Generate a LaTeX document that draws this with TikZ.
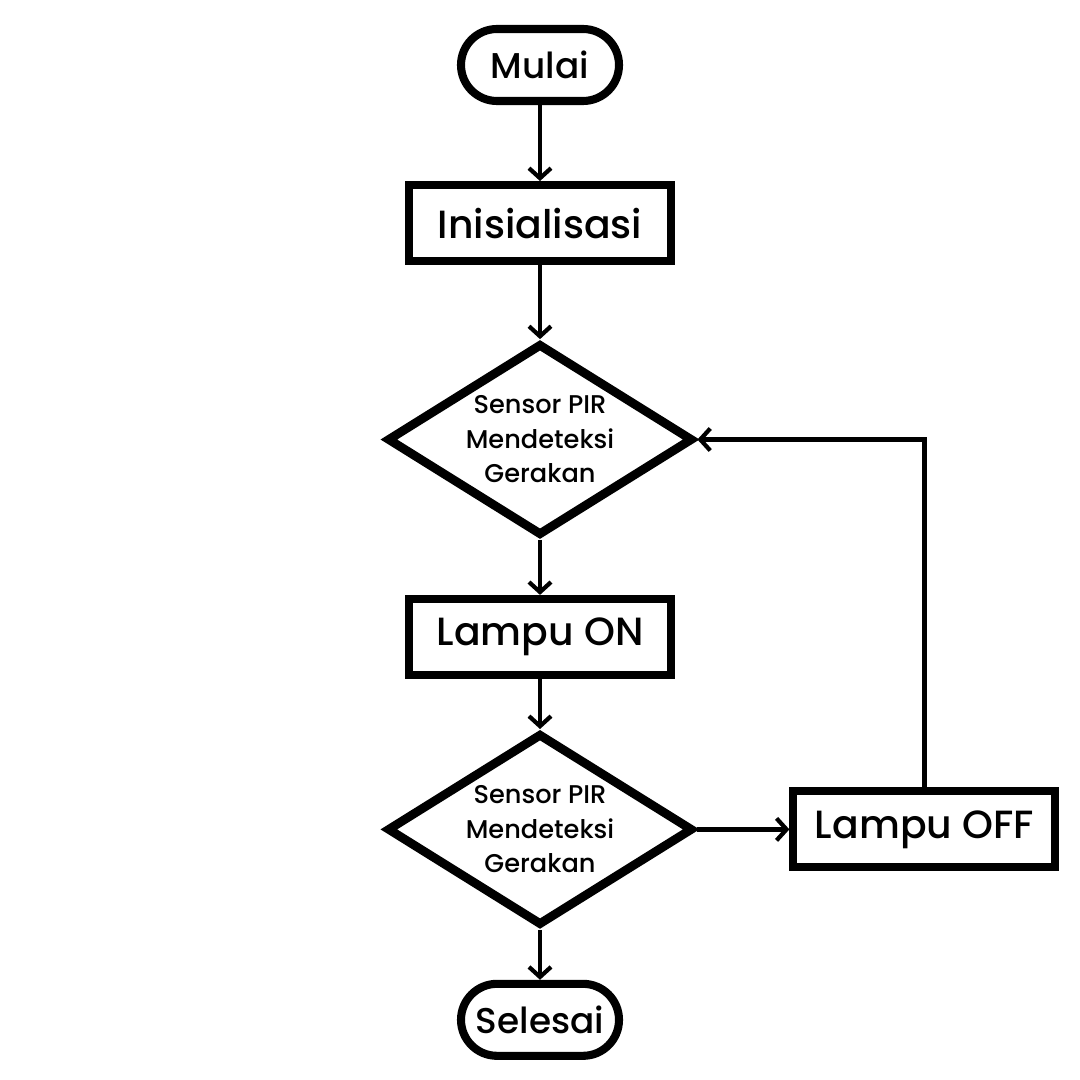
\documentclass[tikz,border=0pt]{standalone}
\usepackage{fontspec}
\setmainfont{Poppins}[UprightFont=* Medium]
\usetikzlibrary{positioning,shapes.geometric,arrows.meta}

\begin{document}
\begin{tikzpicture}[
node distance=0.76cm,
terminal/.style={draw, line width=2.3pt, rounded corners=0.36cm, minimum width=1.58cm, minimum height=0.72cm, inner xsep=1pt, font=\fontsize{10.2}{12}\selectfont},
box/.style={draw, line width=2.3pt, minimum width=2.62cm, minimum height=0.76cm, font=\fontsize{11.2}{13}\selectfont},
decision/.style={draw, diamond, aspect=1.64, line width=2.5pt, minimum width=3.06cm, minimum height=1.92cm, inner sep=0pt, align=center, font=\fontsize{7.3}{9.8}\selectfont},
arrow/.style={-{Straight Barb[length=1mm,width=2.2mm]}, line width=1.2pt}
]

\useasboundingbox (0,0) rectangle (10.8,-10.8);

\node[terminal] (mulai) at (5.4,-0.65) {Mulai};

\node[box, below=0.76cm of mulai] (init) {Inisialisasi};

\node[decision, below=0.74cm of init] (sensor1) {Sensor PIR\\Mendeteksi\\Gerakan};

\node[box, below=0.55cm of sensor1] (on) {Lampu ON};

\node[decision, below=0.5cm of on] (sensor2) {Sensor PIR\\Mendeteksi\\Gerakan};

\node[box, right=0.92cm of sensor2] (off) {Lampu OFF};

\node[terminal, below=0.5cm of sensor2] (selesai) {Selesai};

\draw[arrow] (mulai) -- (init);
\draw[arrow] (init) -- (sensor1);
\draw[arrow] (sensor1) -- (on);
\draw[arrow] (on) -- (sensor2);
\draw[arrow] (sensor2) -- (off);
\draw[arrow] (sensor2) -- (selesai);
\draw[arrow] (off.north) |- (sensor1.east);

\end{tikzpicture}
\end{document}
